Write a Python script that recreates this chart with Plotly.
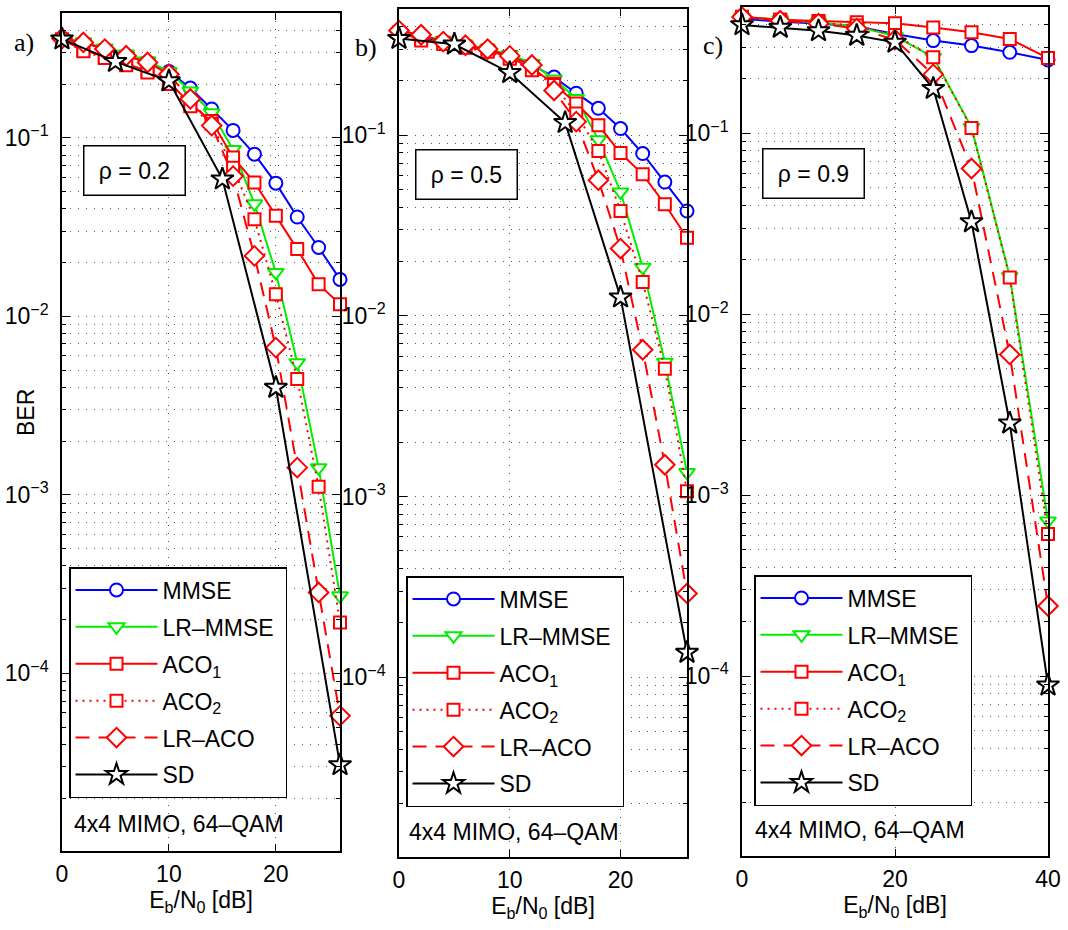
import plotly.graph_objects as go

W, H = 1068, 930

# ---------------- data ----------------
snr_ab = [0, 2, 4, 6, 8, 10, 12, 14, 16, 18, 20, 22, 24, 26]
snr_sd_ab = [0, 5, 10, 15, 20, 26]
snr_c = [0, 5, 10, 15, 20, 25, 30, 35, 40]

a_mmse = [0.36, 0.34, 0.315, 0.29, 0.265, 0.235, 0.19, 0.145, 0.11, 0.081, 0.0557, 0.036, 0.0243, 0.0161]
a_lrmmse = [0.36, 0.345, 0.318, 0.295, 0.27, 0.235, 0.183, 0.138, 0.086, 0.0427, 0.0176, 0.0055, 0.00142, 2.72e-4]
a_aco1 = [0.355, 0.31, 0.285, 0.26, 0.237, 0.205, 0.155, 0.124, 0.0776, 0.0562, 0.0366, 0.0238, 0.0151, 0.0117]
a_aco2 = [0.355, 0.305, 0.28, 0.255, 0.232, 0.2, 0.15, 0.12, 0.068, 0.035, 0.0133, 0.00445, 0.00111, 1.93e-4]
a_lraco = [0.36, 0.342, 0.314, 0.288, 0.264, 0.227, 0.165, 0.117, 0.061, 0.0218, 0.00668, 0.00142, 2.84e-4, 5.78e-5]
a_sd = [0.357, 0.267, 0.208, 0.0587, 0.00399, 3.07e-5]

b_mmse = [0.37, 0.35, 0.33, 0.31, 0.295, 0.275, 0.245, 0.21, 0.171, 0.141, 0.109, 0.0792, 0.0551, 0.0381]
b_lrmmse = [0.375, 0.355, 0.335, 0.315, 0.3, 0.28, 0.25, 0.205, 0.16, 0.0946, 0.0486, 0.0186, 0.00555, 0.00136]
b_aco1 = [0.37, 0.34, 0.325, 0.31, 0.295, 0.27, 0.235, 0.193, 0.150, 0.1136, 0.0797, 0.0608, 0.0415, 0.0271]
b_aco2 = [0.37, 0.335, 0.32, 0.305, 0.29, 0.265, 0.229, 0.19, 0.132, 0.0818, 0.0381, 0.0154, 0.0051, 0.00107]
b_lraco = [0.38, 0.36, 0.33, 0.315, 0.30, 0.275, 0.245, 0.177, 0.119, 0.0564, 0.0236, 0.0065, 0.0015, 2.91e-4]
b_sd = [0.343, 0.319, 0.222, 0.1175, 0.0127, 1.37e-4]

c_mmse = [0.43, 0.415, 0.405, 0.39, 0.355, 0.326, 0.306, 0.281, 0.255]
c_lrmmse = [0.44, 0.425, 0.41, 0.39, 0.345, 0.264, 0.108, 0.0162, 7.2e-4]
c_aco1 = [0.442, 0.425, 0.419, 0.412, 0.407, 0.385, 0.363, 0.333, 0.261]
c_aco2 = [0.44, 0.425, 0.41, 0.395, 0.35, 0.264, 0.107, 0.016, 6.1e-4]
c_lraco = [0.44, 0.42, 0.405, 0.38, 0.33, 0.212, 0.064, 0.006, 2.44e-4]
c_sd = [0.398, 0.385, 0.369, 0.348, 0.319, 0.177, 0.0324, 0.0025, 8.9e-5]

series_names = ["MMSE", "LR–MMSE", "ACO<sub>1</sub>", "ACO<sub>2</sub>", "LR–ACO", "SD"]
panel_letters = ["a)", "b)", "c)"]
rho_labels = ["ρ = 0.2", "ρ = 0.5", "ρ = 0.9"]
system_label = "4x4 MIMO, 64–QAM"
y_tickvals = [1e-4, 1e-3, 1e-2, 1e-1]
y_ticktext = ["10<sup>−4</sup>", "10<sup>−3</sup>", "10<sup>−2</sup>", "10<sup>−1</sup>"]
x_ticks_ab = [0, 10, 20]
x_ticks_c = [0, 20, 40]
x_title = "E<sub>b</sub>/N<sub>0</sub> [dB]"
y_title = "BER"

panels = [
    dict(x=snr_ab, xsd=snr_sd_ab, ys=[a_mmse, a_lrmmse, a_aco1, a_aco2, a_lraco, a_sd], xr=[0, 26], xt=x_ticks_ab),
    dict(x=snr_ab, xsd=snr_sd_ab, ys=[b_mmse, b_lrmmse, b_aco1, b_aco2, b_lraco, b_sd], xr=[0, 26], xt=x_ticks_ab),
    dict(x=snr_c, xsd=snr_c, ys=[c_mmse, c_lrmmse, c_aco1, c_aco2, c_lraco, c_sd], xr=[0, 40], xt=x_ticks_c),
]

# ---------------- styles / layout ----------------
styles = [
    dict(color="#0000ff", symbol="circle", dash="solid", size=13),
    dict(color="#00ee00", symbol="triangle-down", dash="solid", size=14),
    dict(color="#ff0000", symbol="square", dash="solid", size=12),
    dict(color="#ff0000", symbol="square", dash="2px,5px", size=12),
    dict(color="#ff0000", symbol="diamond", dash="14px,9px", size=15),
    dict(color="#000000", symbol="star", dash="solid", size=17),
]

# plot boxes in pixels: left, right, top, bottom
boxes = [(62, 340, 13, 851), (399, 687, 9, 857), (742, 1048, 7, 856)]
legend_pos = [(69, 567), (406, 576), (754, 575)]
rho_pos = [(134.5, 170), (466, 174), (813.5, 173.5)]
letter_pos = [(24, 42), (366, 47), (713, 46)]
sys_pos = [(72, 824), (407, 832), (753, 830)]

FONT = "Liberation Sans"
FS = 23
PAD = "\u00a0"


def px(xp):
    return xp / W


def py(yp):
    return 1 - yp / H


fig = go.Figure()
minor_vals = [m * 10 ** e for e in range(-5, 0) for m in range(2, 10)]

for i, p in enumerate(panels):
    k = "" if i == 0 else str(i + 1)
    lg = "legend" if i == 0 else "legend" + str(i + 1)
    for j, (name, st) in enumerate(zip(series_names, styles)):
        xs = p["xsd"] if j == 5 else p["x"]
        fig.add_trace(go.Scatter(
            x=xs, y=p["ys"][j], name=name + (PAD if j == 1 else ""), mode="lines+markers",
            xaxis="x" + k, yaxis="y" + k, legend=lg, legendgroup=f"g{i}{j}",
            line=dict(color=st["color"], width=2, dash=st["dash"]),
            marker=dict(symbol=st["symbol"], size=st["size"], color="white",
                        line=dict(color=st["color"], width=2)),
            cliponaxis=False,
        ))
    L, R, T, B = boxes[i]
    common = dict(
        ticks="inside", tickcolor="black", tickwidth=1,
        showline=True, linecolor="black", linewidth=1.5, mirror="allticks",
        showgrid=True, gridcolor="#555555", gridwidth=1, griddash="1px,7px",
        zeroline=False, automargin=False, fixedrange=True,
        tickfont=dict(family=FONT, size=FS, color="black"),
    )
    fig.layout["xaxis" + k] = dict(
        domain=[px(L), px(R)], range=p["xr"], tickmode="array", tickvals=p["xt"],
        ticktext=[str(v) for v in p["xt"]], ticklen=7, anchor="y" + k, ticklabelstandoff=2,
        title=dict(text=x_title, font=dict(family=FONT, size=FS, color="black"), standoff=6),
        **common,
    )
    fig.layout["yaxis" + k] = dict(
        domain=[py(B), py(T)], type="log", range=[-4.995, -0.301], tickmode="array",
        tickvals=y_tickvals, ticktext=y_ticktext, ticklen=8, anchor="x" + k,
        ticklabelstandoff=7,
        minor=dict(tickmode="array", tickvals=minor_vals, ticks="inside", ticklen=4,
                   tickcolor="black", showgrid=True, gridcolor="#555555", griddash="1px,7px"),
        **common,
    )
    lx, ly = legend_pos[i]
    fig.layout[lg] = dict(
        x=px(lx), y=py(ly), xanchor="left", yanchor="top",
        bgcolor="white", bordercolor="black", borderwidth=1.5,
        font=dict(family=FONT, size=FS, color="black"),
        itemwidth=82, tracegroupgap=4, traceorder="grouped",
    )
    rx, ry = rho_pos[i]
    fig.add_annotation(x=px(rx), y=py(ry), xref="paper", yref="paper", text=rho_labels[i],
                       showarrow=False, font=dict(family=FONT, size=FS, color="black"),
                       bordercolor="black", borderwidth=1.5, bgcolor="white",
                       width=96, height=44, borderpad=2, xanchor="center", yanchor="middle")
    tx, ty = letter_pos[i]
    fig.add_annotation(x=px(tx), y=py(ty), xref="paper", yref="paper", text=panel_letters[i],
                       showarrow=False, font=dict(family="Liberation Serif", size=26, color="black"),
                       xanchor="center", yanchor="middle")
    sx, sy = sys_pos[i]
    fig.add_annotation(x=px(sx), y=py(sy), xref="paper", yref="paper", text=system_label,
                       showarrow=False, font=dict(family=FONT, size=FS, color="black"),
                       xanchor="left", yanchor="middle")

fig.add_annotation(x=px(26), y=py(413), xref="paper", yref="paper", text=y_title, textangle=-90,
                   showarrow=False, font=dict(family=FONT, size=FS, color="black"),
                   xanchor="center", yanchor="middle")

fig.update_layout(
    width=W, height=H, margin=dict(l=0, r=0, t=0, b=0),
    paper_bgcolor="white", plot_bgcolor="white", showlegend=True,
)

fig.write_html(
    "out.html",
    config={"displayModeBar": False},
    post_script="document.body.style.margin='0';document.body.style.overflow='hidden';",
)
